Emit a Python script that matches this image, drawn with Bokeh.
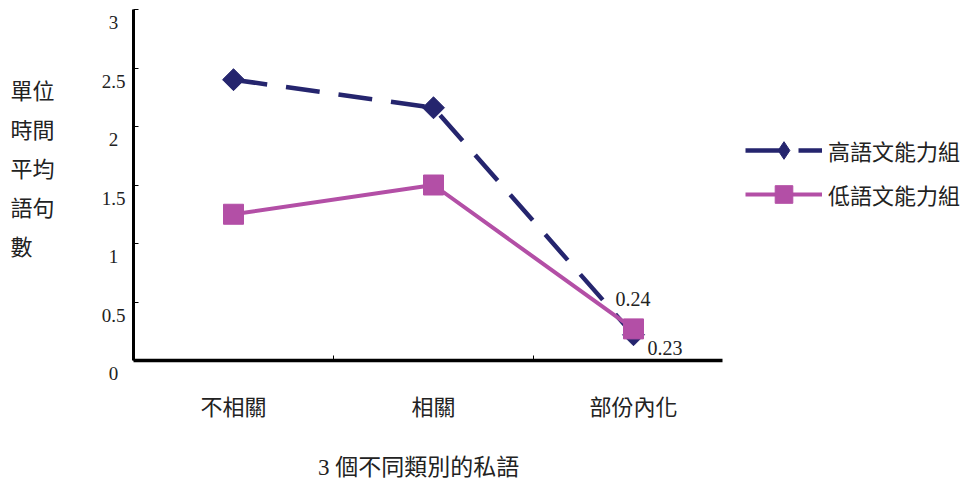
import math
from bokeh.plotting import figure
from bokeh.models import (Range1d, FixedTicker, ColumnDataSource, LabelSet, Legend, LegendItem)
from bokeh.core.properties import value
from bokeh.embed import file_html
from bokeh.resources import INLINE

# ---- data ----
categories = ["不相關", "相關", "部份內化"]
high_group = [2.40, 2.16, 0.22]   # 高語文能力組
low_group = [1.25, 1.50, 0.27]    # 低語文能力組
y_ticks = [0, 0.5, 1, 1.5, 2, 2.5, 3]
y_tick_labels = ["0", "0.5", "1", "1.5", "2", "2.5", "3"]
series_names = ["高語文能力組", "低語文能力組"]
end_labels = ["0.23", "0.24"]  # high, low
y_title_lines = ["單位", "時間", "平均", "語句", "數"]
x_title = "3 個不同類別的私語"

NAVY = "#25256E"
PINK = "#B34FA6"
SERIF = "Liberation Serif"
CJK = "Noto Sans CJK TC"
MIX = "Liberation Serif, Noto Sans CJK TC"
TXT = "#222222"

W, H = 972, 481
AX_X = 133      # pixel of y axis
AX_Y = 360      # pixel of x axis
AX_END = 722    # pixel where x axis line ends
PX_PER_CAT = 200.0
PX_PER_UNIT = 117.0

def px_to_x(px):
    return (px - AX_X) / PX_PER_CAT

def py_to_y(py):
    return (AX_Y - py) / PX_PER_UNIT

xs = [i + 0.5 for i in range(len(categories))]

p = figure(width=W, height=H, output_backend="svg", toolbar_location=None,
           x_range=Range1d(px_to_x(0), px_to_x(W)),
           y_range=Range1d(py_to_y(H), py_to_y(0)),
           min_border_left=0, min_border_right=0,
           min_border_top=0, min_border_bottom=0)
p.outline_line_color = None
p.xgrid.visible = False
p.ygrid.visible = False
p.background_fill_color = "white"
p.border_fill_color = "white"

# y axis: fixed at x = 0, ticks only
ya = p.yaxis[0]
ya.fixed_location = 0
ya.bounds = (0, 3)
ya.ticker = FixedTicker(ticks=y_ticks)
ya.axis_line_width = 3
ya.axis_line_color = "black"
ya.major_tick_in = 5
ya.major_tick_out = 0
ya.major_tick_line_width = 1
ya.minor_tick_line_color = None
ya.major_label_text_font_size = "0px"
ya.major_label_text_alpha = 0

# x axis: fixed at y = 0, category labels at centres, boundary ticks as minor ticks
xa = p.xaxis[0]
xa.fixed_location = 0
xa.bounds = (0, px_to_x(AX_END))
xa.ticker = FixedTicker(ticks=xs, minor_ticks=[1, 2])
xa.major_label_overrides = {x: c for x, c in zip(xs, categories)}
xa.axis_line_width = 3.5
xa.axis_line_color = "black"
xa.major_tick_line_color = None
xa.major_tick_in = 0
xa.major_tick_out = 0
xa.minor_tick_in = 5
xa.minor_tick_out = 0
xa.minor_tick_line_width = 1
xa.minor_tick_line_color = "black"
xa.major_label_text_font = CJK
xa.major_label_text_font_size = "22px"
xa.major_label_text_color = TXT
xa.major_label_standoff = 28

# series
hl = p.line(xs, high_group, line_color=NAVY, line_width=4.5, line_dash="34 19")
hm = p.scatter(xs, high_group, marker="square", angle=math.pi / 4, size=15.5,
               fill_color=NAVY, line_color=NAVY)
ll = p.line(xs, low_group, line_color=PINK, line_width=4)
lm = p.scatter(xs, low_group, marker="square", size=20, fill_color=PINK, line_color=PINK)

# legend-only diamond symbol (legend swatches ignore marker rotation); NaN => not drawn in plot
legend_diamond = p.scatter(x=[float("nan")], y=[float("nan")], marker="diamond", size=20,
                           fill_color=NAVY, line_color=NAVY)

# y tick labels
tick_src = ColumnDataSource(dict(x=[px_to_x(113)] * len(y_ticks), y=y_ticks, t=y_tick_labels))
p.add_layout(LabelSet(x="x", y="y", text="t", source=tick_src, y_offset=-13,
                      text_align="center", text_baseline="middle",
                      text_font=value(SERIF), text_font_size="19px", text_color=TXT))

# y title, stacked
rows_py = [88 + 39.2 * i for i in range(len(y_title_lines))]
ytitle_src = ColumnDataSource(dict(x=[px_to_x(10)] * len(y_title_lines),
                                   y=[py_to_y(v) for v in rows_py], t=y_title_lines))
p.add_layout(LabelSet(x="x", y="y", text="t", source=ytitle_src,
                      text_align="left", text_baseline="middle",
                      text_font=value(CJK), text_font_size="22px", text_color=TXT))

# x title
xtitle_src = ColumnDataSource(dict(x=[px_to_x(418)], y=[py_to_y(467)], t=[x_title]))
p.add_layout(LabelSet(x="x", y="y", text="t", source=xtitle_src,
                      text_align="center", text_baseline="middle",
                      text_font=value(MIX), text_font_size="23px", text_color=TXT))

# end value labels
end_src = ColumnDataSource(dict(x=[xs[-1], xs[-1]], y=[high_group[-1], low_group[-1]],
                                t=end_labels, dx=[14, -18], dy=[-13, 30]))
p.add_layout(LabelSet(x="x", y="y", text="t", source=end_src, x_offset="dx", y_offset="dy",
                      text_align="left", text_baseline="middle",
                      text_font=value(SERIF), text_font_size="20px", text_color=TXT))

legend = Legend(items=[LegendItem(label=series_names[0], renderers=[hl, legend_diamond]),
                       LegendItem(label=series_names[1], renderers=[ll, lm])],
                location=(745, H - 216), orientation="vertical",
                glyph_width=77, glyph_height=44, label_height=44, spacing=0,
                label_standoff=6, padding=0, margin=0,
                border_line_alpha=0, background_fill_alpha=0,
                label_text_font=CJK, label_text_font_size="22px",
                label_text_color=TXT)
p.add_layout(legend)

open("out.html", "w").write(file_html(p, INLINE))
